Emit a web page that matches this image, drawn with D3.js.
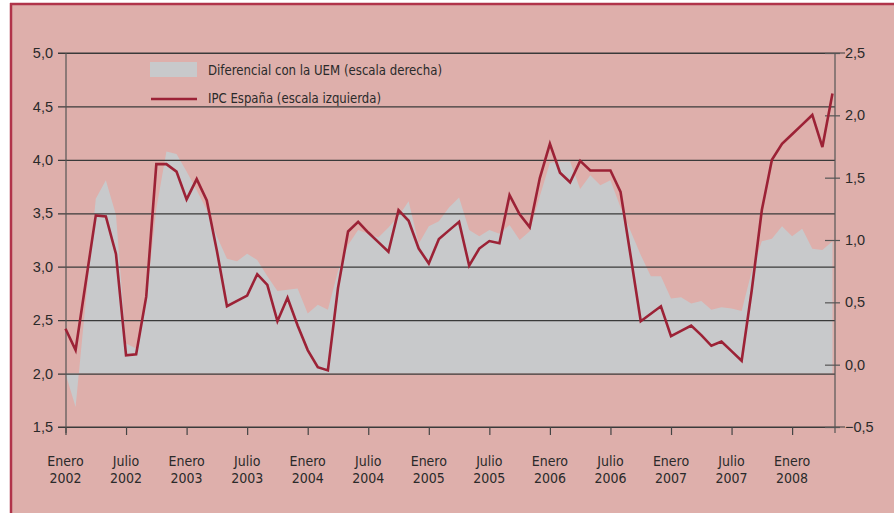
<!DOCTYPE html>
<html>
<head>
<meta charset="utf-8">
<script src="https://cdn.jsdelivr.net/npm/d3@7"></script>
<style>
	body { margin: 0; background: #fff; }
	svg { display: block; font-family: 'Liberation Sans Narrow', 'DejaVu Sans Condensed', sans-serif; }
</style>
</head>
<body>
<svg id="chart"></svg>
<script>
// meses desde enero 2002 (0) hasta mayo 2008 (76)
const ipc = [
	2.42, 2.22, 2.85, 3.48, 3.47, 3.12, 2.17, 2.18, 2.72, 3.96, 3.96, 3.89,
	3.63, 3.82, 3.62, 3.15, 2.63, 2.68, 2.73, 2.93, 2.83, 2.49, 2.71, 2.45,
	2.22, 2.06, 2.03, 2.80, 3.33, 3.42, 3.32, 3.23, 3.14, 3.53, 3.43, 3.17,
	3.03, 3.26, 3.34, 3.42, 3.01, 3.17, 3.24, 3.22, 3.67, 3.49, 3.37, 3.83,
	4.15, 3.88, 3.79, 3.99, 3.90, 3.90, 3.90, 3.70, 3.10, 2.49, 2.56, 2.63,
	2.35, 2.40, 2.45, 2.36, 2.26, 2.30, 2.21, 2.12, 2.78, 3.53, 4.00, 4.15,
	4.24, 4.33, 4.42, 4.12, 4.62
];
const diferencial = [
	-0.07, -0.34, 0.50, 1.33, 1.48, 1.20, 0.17, 0.13, 0.52, 1.25, 1.71, 1.69,
	1.55, 1.40, 1.24, 1.03, 0.85, 0.83, 0.89, 0.84, 0.71, 0.59, 0.60, 0.61,
	0.41, 0.48, 0.44, 0.75, 0.96, 1.08, 1.05, 1.02, 1.10, 1.19, 1.31, 0.97,
	1.11, 1.15, 1.26, 1.34, 1.08, 1.03, 1.08, 1.05, 1.12, 1.00, 1.07, 1.35,
	1.62, 1.63, 1.63, 1.41, 1.52, 1.44, 1.48, 1.26, 1.07, 0.88, 0.71, 0.71,
	0.53, 0.54, 0.49, 0.51, 0.44, 0.46, 0.45, 0.43, 0.75, 0.99, 1.01, 1.11,
	1.03, 1.09, 0.93, 0.92, 0.99
];
const xTickMonths = [0, 6, 12, 18, 24, 30, 36, 42, 48, 54, 60, 66, 72];
const xTickLabels = [
	['Enero', '2002'], ['Julio', '2002'], ['Enero', '2003'], ['Julio', '2003'],
	['Enero', '2004'], ['Julio', '2004'], ['Enero', '2005'], ['Julio', '2005'],
	['Enero', '2006'], ['Julio', '2006'], ['Enero', '2007'], ['Julio', '2007'],
	['Enero', '2008']
];
const leftTicks = [1.5, 2.0, 2.5, 3.0, 3.5, 4.0, 4.5, 5.0];
const rightTicks = [-0.5, 0.0, 0.5, 1.0, 1.5, 2.0, 2.5];
const difBase = -0.07;
const legendLabels = ['Diferencial con la UEM (escala derecha)', 'IPC España (escala izquierda)'];

const width = 894,
	height = 515,
	padLeft = 66,
	padRight = 835,
	padTop = 53,
	padBottom = 427;
const pink = '#deafab',
	grey = '#c8c9cb',
	red = '#9c2236',
	ink = '#2a2a2a';

const svg = d3.select('#chart').attr('width', width).attr('height', height);

// fondo y marco
svg.append('rect').attr('x', 11).attr('y', 4).attr('width', width).attr('height', 509).attr('fill', pink);
svg.append('line').attr('x1', 11).attr('x2', 11).attr('y1', 3).attr('y2', 513).attr('stroke', '#b0344a').attr('stroke-width', 2.5);
svg.append('line').attr('x1', 10).attr('x2', width).attr('y1', 4).attr('y2', 4).attr('stroke', '#b0344a').attr('stroke-width', 2.5);

const x = d3.scaleLinear().domain([0, 76.25]).range([padLeft - 0.5, padRight]);
const yLeft = d3.scaleLinear().domain([1.5, 5]).range([padBottom, padTop]);
const yRight = d3.scaleLinear().domain([-0.5, 2.5]).range([padBottom, padTop]);
const fmt = (d) => d3.format('.1f')(d).replace('.', ',');

// area del diferencial
const area = d3
	.area()
	.x((d, i) => x(i))
	.y0(yRight(difBase))
	.y1((d) => yRight(d));
svg.append('path').datum(diferencial).attr('d', area).attr('fill', grey);

// rejilla + eje izquierdo
const gLeft = svg
	.append('g')
	.attr('transform', 'translate(' + padRight + ',0)')
	.call(d3.axisLeft(yLeft).tickValues(leftTicks).tickSize(padRight - 58).tickPadding(5).tickFormat(fmt));
gLeft.select('.domain').remove();
gLeft.selectAll('line').attr('stroke', '#3a3a3a').attr('stroke-width', 1.2);
gLeft.selectAll('text').attr('font-size', 14.5).attr('fill', ink);

// lineas extremas que llegan hasta la escala derecha
[5, 1.5].forEach((v) => {
	svg.append('line').attr('x1', 58).attr('x2', 845).attr('y1', yLeft(v)).attr('y2', yLeft(v)).attr('stroke', '#3a3a3a').attr('stroke-width', 1.2);
});

// eje derecho
const gRight = svg
	.append('g')
	.attr('transform', 'translate(' + (padRight - 10) + ',0)')
	.call(d3.axisRight(yRight).tickValues(rightTicks).tickSize(15).tickPadding(5).tickFormat(fmt));
gRight.select('.domain').remove();
gRight.selectAll('line').attr('stroke', '#555').attr('stroke-width', 1.2);
gRight.selectAll('text').attr('font-size', 14.5).attr('fill', ink);

// ejes verticales
[padLeft, padRight].forEach((xv) => {
	svg.append('line').attr('x1', xv).attr('x2', xv).attr('y1', padTop).attr('y2', padBottom + 6).attr('stroke', '#555').attr('stroke-width', 1.2);
});

// eje x
const gX = svg
	.append('g')
	.attr('transform', 'translate(0,' + padBottom + ')')
	.call(d3.axisBottom(x).tickValues(xTickMonths).tickSize(8).tickFormat(''));
gX.select('.domain').remove();
gX.selectAll('line').attr('stroke', '#444').attr('stroke-width', 1.2);
const xLab = svg
	.append('g')
	.selectAll('text')
	.data(xTickMonths)
	.enter()
	.append('text')
	.attr('text-anchor', 'middle')
	.attr('font-size', 14)
	.attr('fill', ink);
xLab.append('tspan').attr('x', (d) => x(d)).attr('y', 466).text((d, i) => xTickLabels[i][0]);
xLab.append('tspan').attr('x', (d) => x(d)).attr('y', 483).text((d, i) => xTickLabels[i][1]);

// linea IPC
const line = d3
	.line()
	.x((d, i) => x(i))
	.y((d) => yLeft(d));
svg
	.append('path')
	.datum(ipc)
	.attr('d', line)
	.attr('fill', 'none')
	.attr('stroke', red)
	.attr('stroke-width', 2.6)
	.attr('stroke-linejoin', 'miter');

// leyenda
svg.append('rect').attr('x', 150).attr('y', 62).attr('width', 47).attr('height', 15).attr('fill', grey);
svg.append('line').attr('x1', 151).attr('x2', 197).attr('y1', 99).attr('y2', 99).attr('stroke', red).attr('stroke-width', 2.6);
const legWidths = [234, 173];
svg
	.selectAll('.leg')
	.data(legendLabels)
	.enter()
	.append('text')
	.attr('class', 'leg')
	.attr('x', 208)
	.attr('y', (d, i) => 75 + i * 28)
	.attr('font-size', 14.5)
	.attr('textLength', (d, i) => legWidths[i])
	.attr('lengthAdjust', 'spacingAndGlyphs')
	.attr('fill', ink)
	.text((d) => d);
</script>
</body>
</html>
